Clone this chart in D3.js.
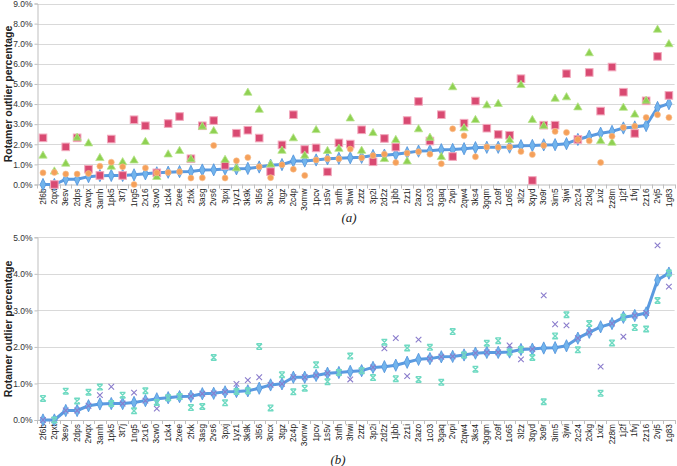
<!DOCTYPE html>
<html><head><meta charset="utf-8">
<script src="https://cdn.jsdelivr.net/npm/d3@7"></script>
<style>body{margin:0;background:#fff}svg{display:block}</style>
</head><body><svg id="c" width="677" height="466"></svg>
<script>
const categories = ["2f6b","2qxt","3esv","2dps","2wqx","3amh","1pk5","3t7j","1ng5","2x16","3cw0","1ck4","2xee","2fxk","3asg","2vs6","3pxj","1yz1","3k9k","3l56","3ncx","3tgz","2c4p","3omw","1pcv","1s5v","3nfh","3hwi","2ztz","3p2i","2d2z","1jbb","2z1i","2azo","1c03","3gaq","2vpi","2qw4","3ks4","3gqm","2o9f","1o65","3l2z","3qyd","3o9r","3im5","3jwi","2c24","2ckg","1xiz","2z8m","1j2f","1fvj","2z16","2vj5","1g83"];
// reference (sorted) series, shown in both panels
const reference = [0,0,0.26,0.26,0.39,0.44,0.45,0.45,0.48,0.53,0.58,0.61,0.64,0.65,0.72,0.73,0.77,0.78,0.80,0.87,0.96,0.99,1.17,1.17,1.22,1.28,1.30,1.33,1.35,1.44,1.46,1.50,1.58,1.66,1.68,1.73,1.74,1.78,1.83,1.85,1.85,1.86,1.93,1.94,1.97,1.98,2.03,2.24,2.40,2.55,2.64,2.81,2.86,2.93,3.83,4.02];
// panel (a)
const squaresA = [2.32,0.0,1.87,2.32,0.76,0.45,2.26,0.45,3.22,2.92,0.58,3.03,3.38,1.28,2.92,3.18,0.95,2.55,2.70,2.31,0.64,1.97,3.47,1.74,1.82,0.63,2.07,2.01,2.72,1.13,2.29,1.86,3.18,4.13,2.16,3.47,1.39,3.05,4.15,2.80,2.49,2.45,5.26,0.20,2.95,2.95,5.51,2.24,5.57,3.65,5.84,4.59,2.54,4.16,6.37,4.43];
const trianglesA = [1.43,0.64,1.03,2.32,2.04,1.31,0.88,1.10,1.19,2.11,0.37,1.49,1.66,1.25,2.87,2.65,1.22,0.80,4.56,3.71,0.99,1.67,2.29,1.43,2.70,1.66,1.77,3.28,1.67,2.55,1.26,2.21,1.14,2.74,2.32,1.36,4.83,2.79,3.20,3.93,4.00,2.21,4.94,3.20,2.90,4.26,4.33,3.83,6.52,2.16,2.07,3.81,3.47,4.16,7.69,6.97];
const circlesA = [0.58,0.60,0.52,0.52,0.55,0.91,1.11,0.88,0.0,0.82,0.58,0.60,0.63,0.32,0.33,1.94,0.32,1.18,1.34,0.88,0.34,0.98,0.76,0.45,1.22,1.28,1.28,1.76,1.33,1.44,1.51,1.09,1.56,1.63,1.51,1.03,2.77,2.42,1.38,1.87,1.85,1.87,1.64,1.49,1.94,2.64,2.59,2.24,2.17,1.09,2.40,2.84,2.90,3.33,3.47,3.33];
// panel (b)
const crossesB = [0,0,0.26,0.26,0.39,0.68,0.91,0.45,0.75,0.53,0.31,0.61,0.64,0.65,0.72,0.73,0.77,0.99,1.09,1.17,0.96,0.99,1.17,1.17,1.22,1.28,1.30,1.11,1.35,1.44,1.96,2.24,1.20,2.20,1.68,1.73,1.74,1.78,1.83,1.85,1.85,2.04,1.66,1.94,3.41,2.62,2.59,2.24,2.40,1.46,2.64,2.28,2.86,2.93,4.78,3.65];
const starsB = [0.59,0,0.79,0.52,0.76,0.90,0.45,0.68,0.25,0.80,0.48,0.61,0.64,0.34,0.37,1.71,0.47,0.78,0.80,2.01,0.33,1.24,0.77,0.87,1.51,1.05,1.30,1.75,1.35,1.16,2.13,1.13,1.97,1.11,1.99,1.03,2.42,1.78,1.39,2.10,2.17,1.86,1.93,1.71,0.50,2.30,2.88,1.92,2.64,0.73,2.11,2.81,2.53,2.49,3.27,4.02];
const ticksA = [0,1,2,3,4,5,6,7,8,9];
const ticksB = [0,1,2,3,4,5];
const yTitle = "Rotamer outlier percentage";

const svg = d3.select("#c");
const FONT = "'Liberation Sans', Arial, sans-serif";
const x = d3.scaleBand().domain(categories).range([37.3, 674.6]).padding(0);
const cx = d => x(d) + x.bandwidth()/2;

function panel(y, ticks, titleY, caption, capX, capY) {
  const g = svg.append("g");
  g.selectAll("line.grid").data(ticks.slice(1)).join("line")
    .attr("x1", 37.3).attr("x2", 674.6)
    .attr("y1", d => Math.round(y(d))+0.5).attr("y2", d => Math.round(y(d))+0.5)
    .attr("stroke", "#d9d9d9").attr("stroke-width", 1);
  const ya = d3.axisLeft(y).tickValues(ticks).tickFormat(d => d.toFixed(1) + "%").tickSize(3).tickPadding(2);
  const gy = g.append("g").attr("transform", "translate(37.5,0)").call(ya);
  gy.select(".domain").attr("stroke", "#bfbfbf");
  gy.selectAll(".tick line").attr("stroke", "#bfbfbf");
  gy.selectAll("text").attr("font-family", FONT).attr("font-size", 8.5).attr("fill", "#333");
  const xa = d3.axisBottom(x).tickSize(0).tickPadding(3);
  const gx = g.append("g").attr("transform", `translate(0,${y(0)})`).call(xa);
  gx.select(".domain").attr("stroke", "#bfbfbf");
  gx.selectAll(".tick text")
    .attr("font-family", FONT).attr("font-size", 8.3).attr("fill", "#222")
    .attr("transform", "rotate(-90)").attr("text-anchor", "end")
    .attr("x", -4).attr("y", 0).attr("dy", "0.32em");
  g.selectAll("line.sep").data(categories.concat(["_end"])).join("line")
    .attr("x1", (d,i) => Math.round(37.3 + i*x.bandwidth())+0.5)
    .attr("x2", (d,i) => Math.round(37.3 + i*x.bandwidth())+0.5)
    .attr("y1", y(0)).attr("y2", y(0)+4)
    .attr("stroke", "#bfbfbf");
  g.append("text").attr("transform", `translate(12,${titleY}) rotate(-90)`)
    .attr("text-anchor", "middle").attr("font-family", FONT).attr("font-weight", "bold")
    .attr("font-size", 10.5).attr("fill", "#222").text(yTitle);
  g.append("text").attr("x", capX).attr("y", capY).attr("text-anchor", "middle")
    .attr("font-family", "'Liberation Serif', 'Times New Roman', serif").attr("font-style", "italic")
    .attr("font-size", 13).attr("fill", "#222").text(caption);
  return g;
}

function refLine(g, y) {
  const line = d3.line().x((d,i) => cx(categories[i])).y(d => y(d));
  g.append("path").datum(reference).attr("d", line).attr("fill", "none")
    .attr("stroke", "#5a9ae0").attr("stroke-width", 3).attr("stroke-linejoin", "round");
  g.selectAll("path.dia").data(reference).join("path")
    .attr("d", d3.symbol(d3.symbolDiamond, 36)())
    .attr("transform", (d,i) => `translate(${cx(categories[i])},${y(d)}) scale(0.9,1.1)`)
    .attr("fill", "#72b4ec").attr("stroke", "#4f92dc").attr("stroke-width", 0.8);
}

// ----- panel (a)
const yA = d3.scaleLinear().domain([0, 9]).range([184.5, 3.5]);
const gA = panel(yA, ticksA, 94, "(a)", 349, 222);
refLine(gA, yA);
gA.selectAll("rect.sq").data(squaresA).join("rect")
  .attr("x", (d,i) => cx(categories[i]) - 3.8).attr("y", d => yA(d) - 3.8)
  .attr("width", 7.6).attr("height", 7.6)
  .attr("fill", "#d94a72").attr("stroke", "#f2a9bd").attr("stroke-width", 1);
gA.selectAll("path.tri").data(trianglesA).join("path")
  .attr("d", d3.symbol(d3.symbolTriangle, 30)())
  .attr("transform", (d,i) => `translate(${cx(categories[i])},${yA(d)})`)
  .attr("fill", "#8fd152").attr("stroke", "#b9e58e").attr("stroke-width", 0.8);
gA.selectAll("circle.ci").data(circlesA).join("circle")
  .attr("cx", (d,i) => cx(categories[i])).attr("cy", d => yA(d)).attr("r", 3)
  .attr("fill", "#f5a05a").attr("stroke", "#f8c190").attr("stroke-width", 0.6);

// ----- panel (b)
const yB = d3.scaleLinear().domain([0, 5]).range([420, 237.3]);
const gB = panel(yB, ticksB, 329, "(b)", 338, 464);
refLine(gB, yB);
const cr = 2.8;
gB.selectAll("path.cross").data(crossesB).join("path")
  .attr("d", (d,i) => { const X = cx(categories[i]), Y = yB(d);
     return `M${X-cr},${Y-cr}L${X+cr},${Y+cr}M${X-cr},${Y+cr}L${X+cr},${Y-cr}`; })
  .attr("stroke", "#8a7ccc").attr("stroke-width", 1.1).attr("fill", "none");
gB.selectAll("path.star").data(starsB).join("path")
  .attr("d", (d,i) => { const X = cx(categories[i]), Y = yB(d);
     return `M${X-cr},${Y-cr}L${X+cr},${Y+cr}M${X-cr},${Y+cr}L${X+cr},${Y-cr}M${X-cr},${Y-cr}L${X+cr},${Y-cr}M${X-cr},${Y+cr}L${X+cr},${Y+cr}`; })
  .attr("stroke", "#6fdac2").attr("stroke-width", 1.4).attr("fill", "none");
</script></body></html>
